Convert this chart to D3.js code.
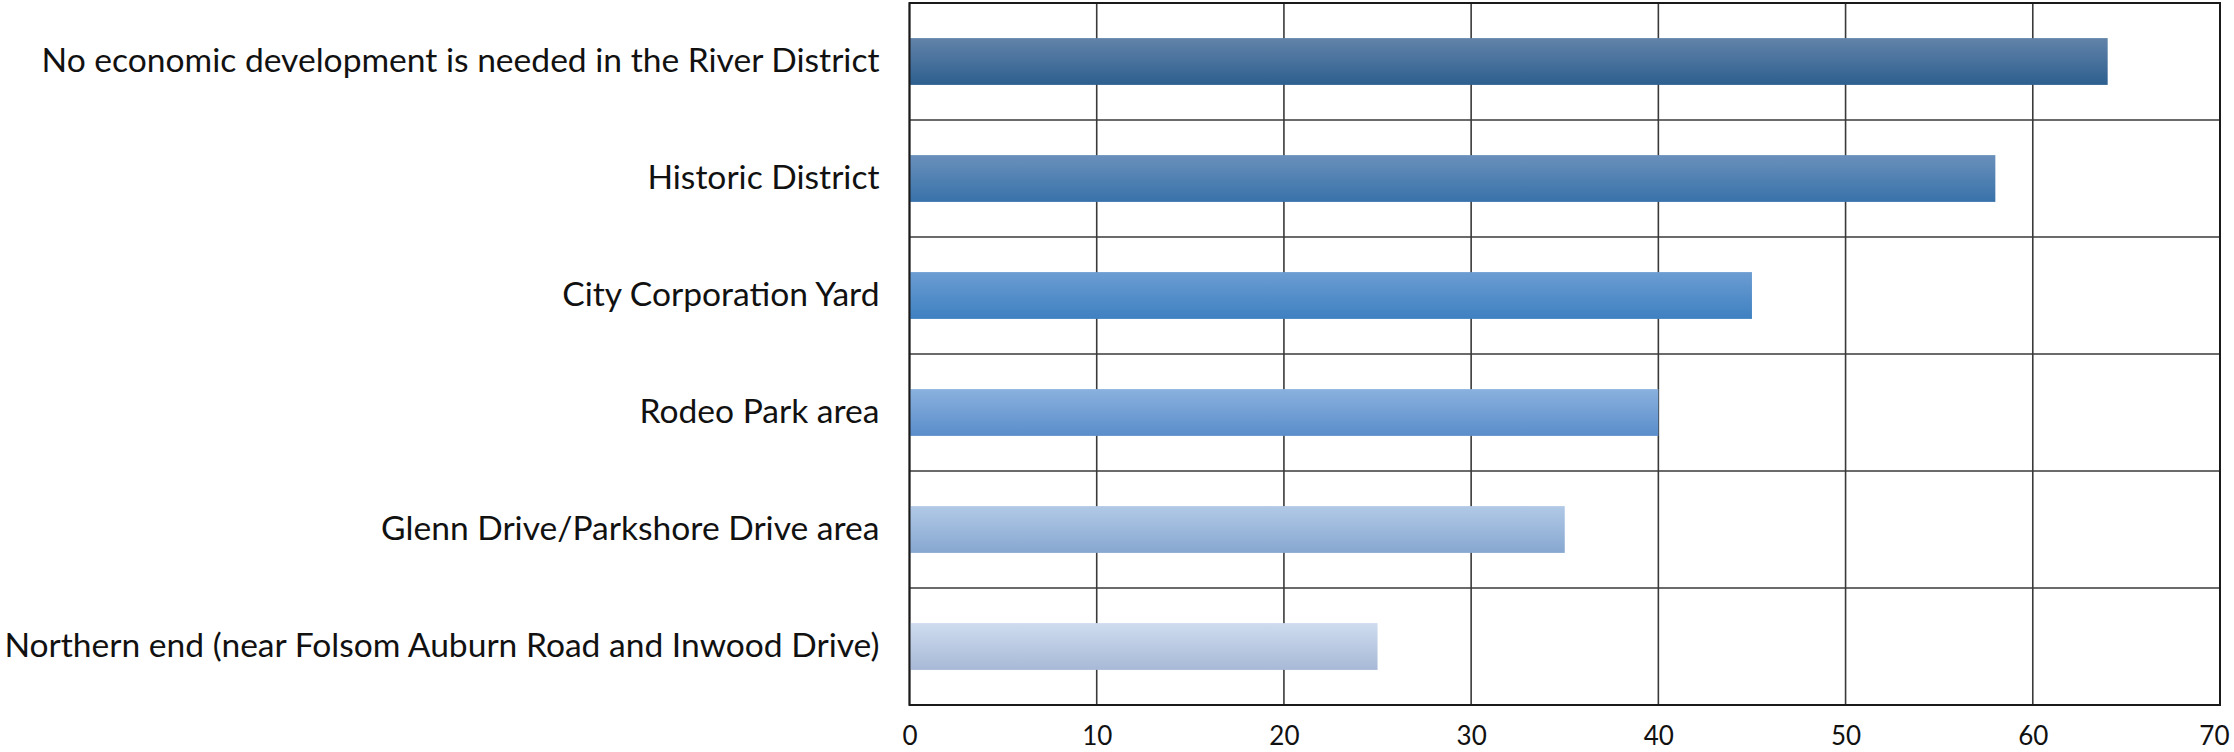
<!DOCTYPE html>
<html><head><meta charset="utf-8">
<script src="https://cdn.jsdelivr.net/npm/d3@7"></script>
<style>html,body{margin:0;padding:0;background:#fff;overflow:hidden;}svg{display:block;}</style>
</head><body>
<script>
const categories = [
  "No economic development is needed in the River District",
  "Historic District",
  "City Corporation Yard",
  "Rodeo Park area",
  "Glenn Drive/Parkshore Drive area",
  "Northern end (near Folsom Auburn Road and Inwood Drive)"
];
const values = [64, 58, 45, 40, 35, 25];
const tickValues = [0, 10, 20, 30, 40, 50, 60, 70];
const barTop = ["#6283a9", "#6a90bb", "#6c9dd2", "#8ab1de", "#b1c9e7", "#cfdcef"];
const barBottom = ["#2d5f8f", "#3872aa", "#3e80c1", "#5a8dca", "#87a7d0", "#a7b9d6"];

const W = 2234, H = 752;
const m = {left: 909.5, right: 2220, top: 3, bottom: 705};
const svg = d3.select("body").append("svg").attr("width", W).attr("height", H);
const defs = svg.append("defs");
barTop.forEach((c, i) => {
  const g = defs.append("linearGradient").attr("id", "g" + i)
    .attr("x1", 0).attr("y1", 0).attr("x2", 0).attr("y2", 1);
  g.append("stop").attr("offset", "0%").attr("stop-color", c);
  g.append("stop").attr("offset", "100%").attr("stop-color", barBottom[i]);
});

const x = d3.scaleLinear().domain([0, 70]).range([m.left, m.right]);
const y = d3.scaleBand().domain(categories).range([m.top, m.bottom]).paddingInner(0.6).paddingOuter(0.3);
const yb = d3.scaleBand().domain(categories).range([m.top, m.bottom]);

// gridlines
svg.append("g").selectAll("line").data(tickValues).join("line")
  .attr("x1", d => x(d)).attr("x2", d => x(d)).attr("y1", m.top).attr("y2", m.bottom)
  .attr("stroke", "#3a3a3a").attr("stroke-width", 1.6);
svg.append("g").selectAll("line").data(categories.slice(1)).join("line")
  .attr("x1", m.left).attr("x2", m.right).attr("y1", d => yb(d)).attr("y2", d => yb(d))
  .attr("stroke", "#3a3a3a").attr("stroke-width", 1.6);

// bars
svg.append("g").selectAll("rect").data(categories).join("rect")
  .attr("x", x(0)).attr("y", d => y(d))
  .attr("width", (d, i) => x(values[i]) - x(0))
  .attr("height", y.bandwidth())
  .attr("fill", (d, i) => `url(#g${i})`);

// border
svg.append("rect").attr("x", m.left).attr("y", m.top)
  .attr("width", m.right - m.left).attr("height", m.bottom - m.top)
  .attr("fill", "none").attr("stroke", "#1a1a1a").attr("stroke-width", 2);

// y labels
const yAxis = d3.axisLeft(y).tickSize(0).tickPadding(0);
const ga = svg.append("g").attr("transform", `translate(${m.left - 30},0)`).call(yAxis);
ga.select(".domain").remove();
ga.selectAll("text").attr("font-family", "Lato, 'Open Sans', sans-serif")
  .attr("font-size", 33.6).attr("fill", "#111");

// x labels
const xAxis = d3.axisBottom(x).tickValues(tickValues).tickSize(0).tickPadding(0);
const gx = svg.append("g").attr("transform", `translate(0,${m.bottom + 22})`).call(xAxis);
gx.select(".domain").remove();
gx.selectAll("text").attr("font-family", "Lato, 'Open Sans', sans-serif")
  .attr("font-size", 26).attr("fill", "#111");
gx.selectAll(".tick").filter(d => d === 70).select("text").attr("text-anchor", "end").attr("dx", 9);
</script>
</body></html>
